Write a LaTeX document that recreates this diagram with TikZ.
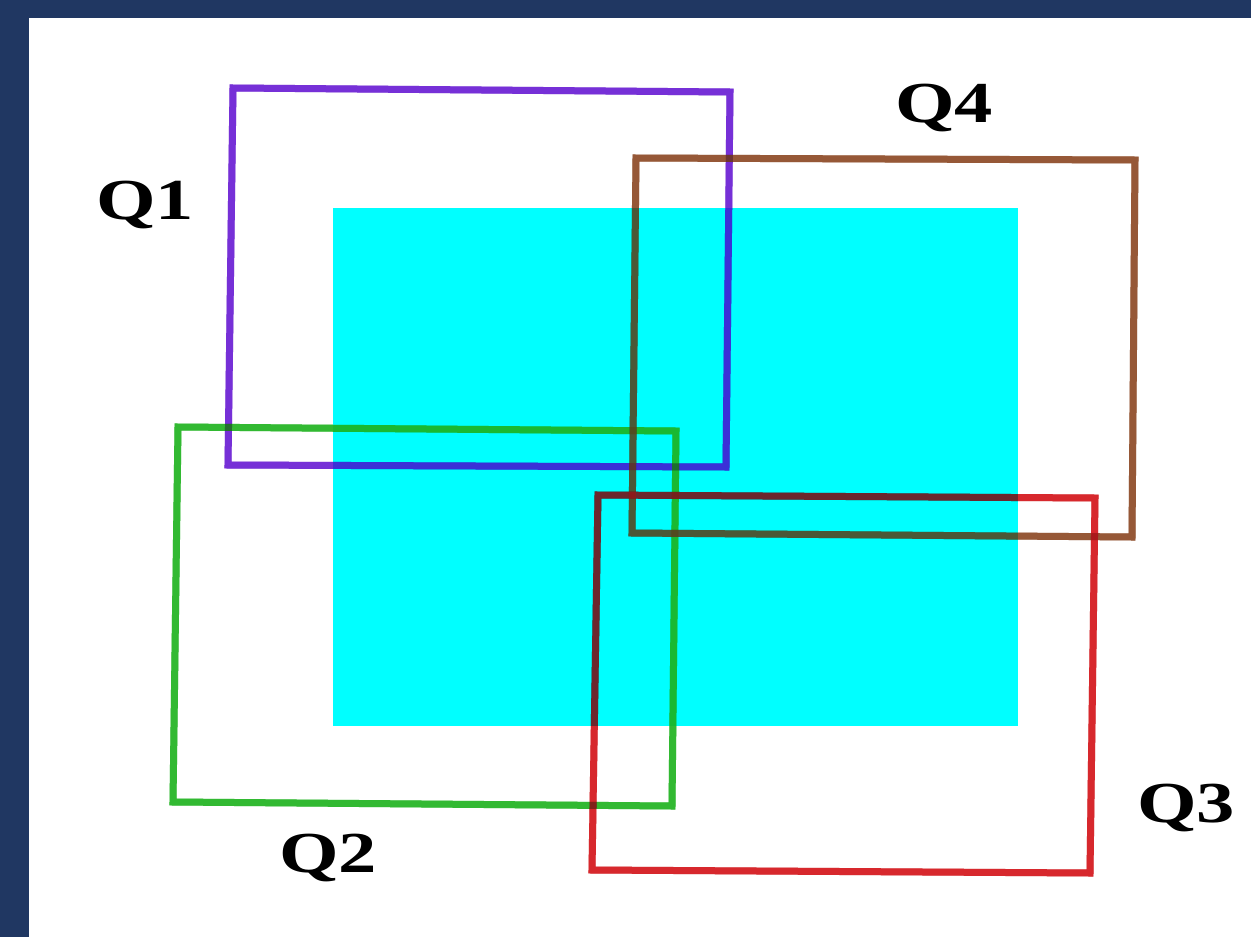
\documentclass[tikz,border=0pt]{standalone}
\usepackage{fontspec}
\setmainfont{Liberation Serif}
\definecolor{navy}{RGB}{32,55,98}
\definecolor{sq}{RGB}{0,255,255}
\definecolor{qone}{RGB}{118,48,215}
\definecolor{qtwo}{RGB}{50,185,50}
\definecolor{qthree}{RGB}{215,40,45}
\definecolor{qfour}{RGB}{150,88,55}
\tikzset{
  framebase/.style={line width=7pt, line join=miter},
  framemul/.style={framebase, blend mode=multiply},
  framemix/.style={framebase, draw opacity=0.5},
  lab/.style={font=\fontsize{58}{60}\selectfont\bfseries, inner sep=0pt, xscale=1.32}
}
\newcommand{\qframe}[2]{%
  \draw[framemul, #1] #2;
  \draw[framemix, #1] #2;
}
\begin{document}
\begin{tikzpicture}[x=1pt,y=-1pt]
\useasboundingbox (0,0) rectangle (1251,937);
\fill[navy] (0,0) rectangle (1251,937);
\fill[white] (29,18) rectangle (1251,937);
\fill[sq] (333,208) rectangle (1018,726);
\qframe{qone}{(233,88) -- (730,92) -- (726,467) -- (228,465) -- cycle}
\qframe{qtwo}{(178,427) -- (676,431) -- (672,806) -- (173,802) -- cycle}
\qframe{qfour}{(636,158) -- (1135,160) -- (1132,537) -- (632,533) -- cycle}
\qframe{qthree}{(598,495) -- (1095,498) -- (1090,873) -- (592,870) -- cycle}
\node[lab] (q1) at (145,205) {Q1};
\node[lab] (q2) at (328,858) {Q2};
\node[lab] (q3) at (1186,808) {Q3};
\node[lab] (q4) at (944,108) {Q4};
\end{tikzpicture}
\end{document}
